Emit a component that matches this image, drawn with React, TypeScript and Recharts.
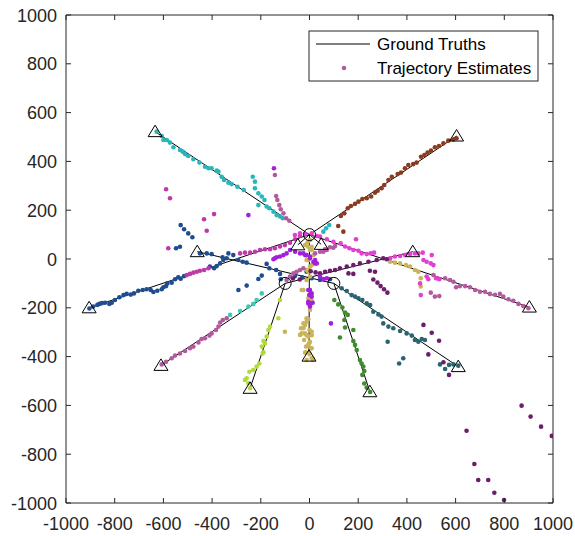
import React from "react";
import { ScatterChart, Scatter, XAxis, YAxis, ReferenceArea } from "recharts";

// ---------- layout ----------
const W = 565;
const H = 536;
const PL = 58;
const PR = 545;
const PT = 15;
const PB = 503;
const TXT = "#262626";
const FONT = "'Liberation Sans', Arial, Helvetica, sans-serif";

// ---------- ticks ----------
const X_TICKS = [-1000, -800, -600, -400, -200, 0, 200, 400, 600, 800, 1000];
const Y_TICKS = [-1000, -800, -600, -400, -200, 0, 200, 400, 600, 800, 1000];

// ---------- ground truth ----------
const BIRTHS: number[][] = [[0, 100], [-100, -100], [100, -100]];
const DEATHS: number[][] = [
  [-634, 522], [604, 504], [-905, -200], [903, -197], [-2, -398], [-48, 58], [48, 60],
  [-610, -436], [-244, -530], [424, 30],
  [-461, 30], [248, -544], [611, -441],
];
const TRUTH_SEGMENTS: number[][][] = [
  [[0, 100], [-634, 522]],
  [[0, 100], [604, 504]],
  [[0, 100], [-905, -200]],
  [[0, 100], [903, -197]],
  [[0, 100], [-2, -398]],
  [[0, 100], [-48, 58]],
  [[0, 100], [48, 60]],
  [[-100, -100], [-610, -436]],
  [[-100, -100], [-244, -530]],
  [[-100, -100], [424, 30]],
  [[100, -100], [-461, 30]],
  [[100, -100], [248, -544]],
  [[100, -100], [611, -441]],
];

// ---------- trajectory estimates ----------
const CYAN: number[][] = [
  [-628, 522], [-607, 504], [-600, 488], [-586, 488], [-573, 477], [-559, 458], [-532, 447], [-521, 440],
  [-511, 430], [-498, 422], [-477, 409], [-452, 395], [-429, 378], [-415, 372], [-402, 372], [-381, 362],
  [-374, 358], [-361, 337], [-351, 324], [-333, 313], [-320, 307], [-296, 296], [-270, 283],
  [-233, 337], [-224, 317], [-224, 290], [-210, 269], [-196, 256], [-185, 242], [-210, 221], [-176, 215],
  [-165, 208], [-148, 194], [-135, 180], [-121, 174], [-110, 167], [57, 112], [68, 126], [81, 139],
];
const AQUA: number[][] = [
  [-326, -229], [-285, -213], [-251, -195], [-231, -184], [-217, -168], [-196, -141],
];
const BROWN: number[][] = [
  [604, 495], [591, 490], [570, 485], [550, 474], [532, 463], [515, 458], [499, 444], [485, 436],
  [472, 426], [458, 419], [440, 395], [426, 389], [406, 385], [392, 372], [376, 354], [362, 348],
  [338, 337], [324, 324], [307, 303], [296, 290], [280, 280], [269, 272], [253, 256], [235, 249],
  [217, 246], [201, 235], [187, 226], [170, 217], [157, 208], [143, 187], [129, 176], [118, 135], [139, 112],
];
const BLUE: number[][] = [
  [-904, -203], [-888, -195], [-871, -188], [-863, -184], [-853, -181], [-840, -179], [-822, -184], [-812, -179],
  [-799, -168], [-781, -157], [-764, -148], [-751, -143], [-734, -146], [-721, -141], [-703, -130], [-685, -127],
  [-669, -124], [-652, -127], [-641, -135], [-625, -130], [-607, -124], [-600, -116], [-589, -111], [-584, -100],
  [-566, -97], [-552, -83], [-539, -75], [-529, -81], [-515, -70], [-409, -31], [-392, -38], [-381, -29],
  [-367, -18], [-354, -4], [-340, 3],
  [-450, 23], [-422, 23], [-402, 20], [-357, 7], [-333, 23], [-313, 16], [-292, -4], [-274, -11], [-258, -15],
  [-176, -20], [-165, -38], [-137, -45], [-121, -61], [-118, -83], [-60, -70], [-30, -75], [-12, -52],
  [9, -79], [43, -86], [57, -83], [84, -83],
  [-529, 139], [-515, 122], [-498, 105], [-481, 89], [-548, 44], [-532, 50],
  [-292, -127], [-258, -109], [-210, -82], [-196, -68],
];
const MAGENTA: number[][] = [
  [-504, -66], [-491, -61], [-477, -56], [-463, -52], [-450, -48], [-433, -45], [-415, -38],
  [-285, 23], [-265, 26], [-244, 26], [-224, 30], [-203, 37], [-183, 40], [-162, 40], [-142, 44],
  [-121, 51], [-101, 57], [-80, 67], [-59, 81], [-39, 94],
  [-580, 44], [-433, 163], [-392, 184], [-422, 116], [-589, 286], [-573, 249],
];
const PINK: number[][] = [
  [-60, 98], [-39, 105], [-18, 102], [9, 105], [30, 94], [43, 92], [71, 81], [98, 71], [128, 64],
  [146, 51], [164, 44], [180, 37], [201, 34], [214, 23], [235, 20], [251, 23], [265, 26], [191, 81],
  [331, 3], [351, 10], [372, 12], [392, 16], [413, 20], [433, 23], [447, 23], [465, 26], [502, 16],
  [468, -4], [481, -11], [498, -18], [509, -25], [481, -72], [488, -83], [454, -100], [457, -148],
  [520, -79], [533, -83],
];
const MAUVE: number[][] = [
  [-142, 344], [-137, 258], [-132, 242], [-124, 221], [-118, 204], [-107, 187], [-96, 167], [-83, 157],
  [-607, -432], [-589, -421], [-566, -407], [-552, -396], [-532, -387], [-511, -377], [-491, -366],
  [-477, -359], [-456, -342], [-443, -328], [-429, -325], [-411, -314], [-402, -305], [-384, -291],
  [-374, -277], [-367, -260], [-356, -250], [-340, -243],
  [-94, -86], [-80, -72], [-66, -59], [-53, -52], [-39, -45], [-25, -38],
  [23, 23], [43, 30], [57, 30], [64, 40], [71, 37], [84, 48], [98, 46], [105, 53],
  [509, -66], [525, -79], [557, -79], [577, -86], [591, -93], [602, -116], [618, -111], [639, -111],
  [659, -116], [680, -127], [700, -134], [721, -134], [741, -143], [762, -147], [782, -143], [796, -154],
  [817, -165], [837, -171], [858, -184], [878, -193], [899, -202], [498, -138], [515, -154], [533, -152],
];
const PURPLE: number[][] = [
  [-146, 372], [-251, 180], [-148, -1], [-142, 3], [-135, 7], [-121, 10], [-107, 16], [-94, 23],
  [-80, 37], [-59, 30], [-39, 23], [-25, 23], [-18, 16], [-12, 16], [2, 9], [2, 3], [16, -11],
  [23, -4], [23, -18], [30, -18], [43, -72], [57, -83], [71, -79], [2, -127], [-5, -127], [9, -141],
  [9, -154], [-1, -148], [-5, -175], [5, -182], [13, -179], [2, -195], [-5, -182], [88, -264],
];
const DARK_PURPLE: number[][] = [
  [-68, -80], [-40, -84], [5, -50], [25, -55],
  [43, -59], [64, -52], [84, -48], [105, -45], [125, -38], [153, -31], [180, -25], [207, -18],
  [242, -11], [276, -4], [303, 3], [317, -1], [160, -59], [180, -61], [248, -48], [269, -52],
  [262, -84], [279, -97], [292, -111], [306, -124], [320, -138],
  [468, -270], [502, -302], [532, -335], [488, -391], [550, -423], [573, -475],
  [871, -601], [908, -646], [951, -687], [995, -725], [645, -704], [677, -840], [693, -906],
  [734, -906], [759, -958], [799, -988],
];
const KHAKI: number[][] = [
  [2, 78], [-8, 68], [-18, 57], [-5, 50], [9, 37], [16, 16], [2, 37], [9, 50], [-5, -4], [-12, -4],
  [9, -25], [2, -32], [-11, -45], [-5, -52], [2, -72], [-12, -86], [-25, -127], [-32, -127],
  [9, -168], [-5, -161], [2, -209], [-5, -247], [-12, -243], [-12, -257], [-18, -271], [-25, -264],
  [-25, -284], [-35, -284], [0, -291], [9, -298], [-32, -305], [-39, -311], [-19, -305], [-12, -312],
  [9, -312], [-5, -318], [-22, -332], [2, -339], [-2, -346], [-5, -352], [-14, -359], [9, -366],
  [6, -366], [-18, -384], [-16, -382], [0, -389], [9, -407], [12, -407], [-12, -414], [13, -414],
  [-101, -298],
  [331, -11], [351, -15], [372, -18], [396, -25], [413, -31], [433, -45], [447, -52], [457, -79], [457, -113],
];
const LIME: number[][] = [
  [-121, -168], [-128, -243], [-162, -277], [-169, -291], [-176, -318], [-189, -336], [-183, -346],
  [-196, -359], [-189, -382], [-192, -387], [-206, -428], [-217, -441], [-231, -455], [-247, -462],
  [-258, -489], [-265, -496], [-251, -509], [-244, -530],
];
const TEAL: number[][] = [
  [132, -120], [153, -131], [173, -148], [187, -154], [201, -161], [217, -168], [235, -182], [249, -189],
  [262, -216], [283, -227], [296, -236], [303, -264], [324, -277], [344, -284], [372, -295], [399, -305],
  [420, -314], [433, -332], [447, -339], [461, -328], [474, -332], [536, -432], [557, -451], [573, -434],
  [591, -432], [611, -437], [321, -339], [368, -428], [385, -407],
];
const GREEN: number[][] = [
  [102, -168], [118, -186], [135, -199], [146, -219], [157, -229], [143, -250], [146, -281], [180, -291],
  [125, -322], [180, -336], [187, -352], [194, -373], [207, -414], [214, -428], [221, -441], [225, -459],
  [217, -475], [225, -510], [235, -527], [249, -545],
];

const ESTIMATES: { data: number[][]; color: string }[] = [
  { data: CYAN, color: "#2ab5b8" },
  { data: AQUA, color: "#3ccab5" },
  { data: BROWN, color: "#8b3b1f" },
  { data: BLUE, color: "#1f4d8f" },
  { data: LIME, color: "#b2da3b" },
  { data: GREEN, color: "#3e8c2d" },
  { data: TEAL, color: "#2b6471" },
  { data: KHAKI, color: "#c9b45b" },
  { data: MAUVE, color: "#b25a9d" },
  { data: MAGENTA, color: "#be3aa9" },
  { data: PINK, color: "#e23fd3" },
  { data: DARK_PURPLE, color: "#6c1d6c" },
  { data: PURPLE, color: "#a21fdc" },
];

const toPts = (arr: number[][]) => arr.map(([x, y]) => ({ x, y }));

// ---------- shapes ----------
const makeDot = (color: string) => (p: any) =>
  p.cx == null ? <g /> : <circle cx={p.cx} cy={p.cy} r={2.3} fill={color} />;
const NoShape = () => <g />;
const Ring = (p: any) =>
  p.cx == null ? <g /> : <circle cx={p.cx} cy={p.cy} r={6} fill="none" stroke="#000" strokeWidth={1} />;
const Tri = (p: any) =>
  p.cx == null ? (
    <g />
  ) : (
    <polygon
      points={`${p.cx},${p.cy - 6.5} ${p.cx - 7},${p.cy + 5} ${p.cx + 7},${p.cy + 5}`}
      fill="none"
      stroke="#000"
      strokeWidth={1}
    />
  );

// ---------- ticks ----------
const XTick = (p: any) => {
  const x = p.x;
  return (
    <g>
      <line x1={x} x2={x} y1={PB} y2={PB - 5} stroke={TXT} strokeWidth={1} />
      <line x1={x} x2={x} y1={PT} y2={PT + 5} stroke={TXT} strokeWidth={1} />
      <text x={x} y={PB + 27} textAnchor="middle" fill={TXT} fontSize={18} fontFamily={FONT}>
        {p.payload.value}
      </text>
    </g>
  );
};
const YTick = (p: any) => {
  const y = p.y;
  return (
    <g>
      <line x1={PL} x2={PL + 5} y1={y} y2={y} stroke={TXT} strokeWidth={1} />
      <line x1={PR} x2={PR - 5} y1={y} y2={y} stroke={TXT} strokeWidth={1} />
      <text x={PL - 9} y={y + 6.5} textAnchor="end" fill={TXT} fontSize={18} fontFamily={FONT}>
        {p.payload.value}
      </text>
    </g>
  );
};

export default function App() {
  return (
    <div style={{ position: "absolute", left: 8, top: 0, width: W, height: H, background: "#fff" }}>
      <ScatterChart width={W} height={H} margin={{ top: PT, right: W - PR, bottom: 0, left: 0 }}>
        <XAxis
          type="number"
          dataKey="x"
          domain={[-1000, 1000]}
          ticks={X_TICKS}
          interval={0}
          height={H - PB}
          tick={<XTick />}
          tickLine={false}
          axisLine={false}
          allowDataOverflow
        />
        <YAxis
          type="number"
          dataKey="y"
          domain={[-1000, 1000]}
          ticks={Y_TICKS}
          interval={0}
          width={PL}
          tick={<YTick />}
          tickLine={false}
          axisLine={false}
          allowDataOverflow
        />
        <ReferenceArea x1={-1000} x2={1000} y1={-1000} y2={1000} fill="none" fillOpacity={0} stroke={TXT} strokeWidth={1} />
        {TRUTH_SEGMENTS.map((seg, i) => (
          <Scatter
            key={"t" + i}
            data={toPts(seg)}
            line={{ stroke: "#000", strokeWidth: 1 }}
            shape={NoShape}
            isAnimationActive={false}
          />
        ))}
        {ESTIMATES.map((e, i) => (
          <Scatter key={"e" + i} data={toPts(e.data)} fill={e.color} shape={makeDot(e.color)} isAnimationActive={false} />
        ))}
        <Scatter data={toPts(BIRTHS)} shape={Ring} isAnimationActive={false} />
        <Scatter data={toPts(DEATHS)} shape={Tri} isAnimationActive={false} />
      </ScatterChart>
      <svg
        width={231}
        height={52}
        style={{ position: "absolute", left: 300, top: 30 }}
      >
        <rect x={1} y={1} width={229} height={50} fill="#fff" stroke={TXT} strokeWidth={1} />
        <line x1={8} x2={62} y1={14} y2={14} stroke="#000" strokeWidth={1} />
        <text x={69} y={20} fill="#000" fontSize={17} fontFamily={FONT}>Ground Truths</text>
        <circle cx={36} cy={38} r={2.3} fill="#b25a9d" />
        <text x={69} y={44} fill="#000" fontSize={17} fontFamily={FONT}>Trajectory Estimates</text>
      </svg>
    </div>
  );
}
